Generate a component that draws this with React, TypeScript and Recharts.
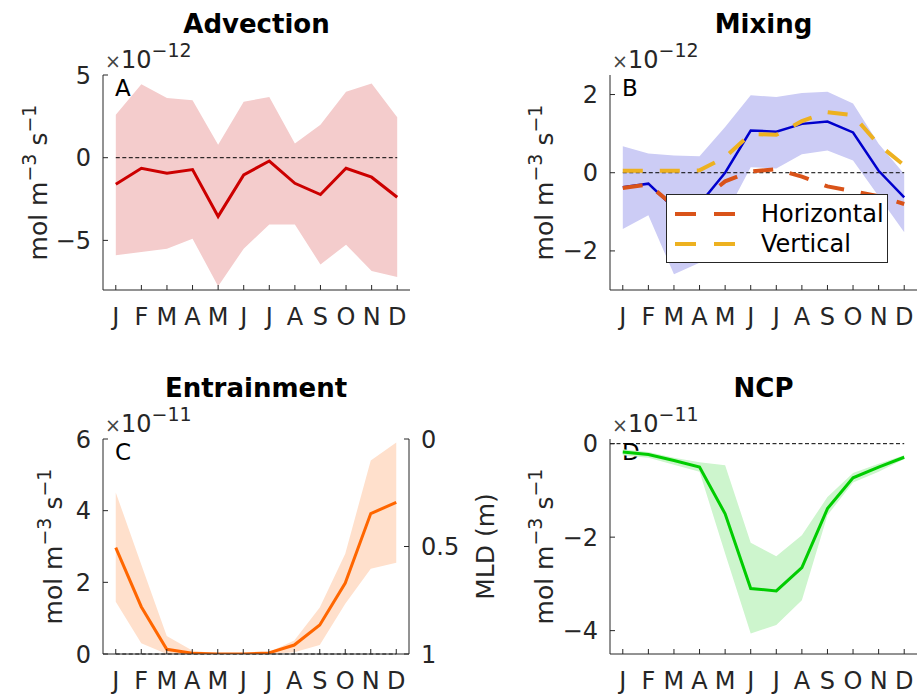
import React from 'react';
import { ComposedChart, Line, Area, XAxis, YAxis, ReferenceLine, Legend, Customized } from 'recharts';

// month axis
const months = ['J', 'F', 'M', 'A', 'M', 'J', 'J', 'A', 'S', 'O', 'N', 'D'];
const monthNums = [1, 2, 3, 4, 5, 6, 7, 8, 9, 10, 11, 12];

// advection (x1e-12)
const advMean = [-1.6, -0.64, -0.94, -0.72, -3.55, -1.04, -0.2, -1.55, -2.23, -0.64, -1.18, -2.39];
const advHi = [2.59, 4.44, 3.61, 3.47, 0.78, 3.39, 3.67, 0.86, 1.99, 3.99, 4.48, 2.45];
const advLo = [-5.9, -5.7, -5.5, -4.9, -7.77, -5.5, -4.04, -4.04, -6.46, -5.26, -6.85, -7.21];

// mixing (x1e-12)
const mixTotal = [-0.37, -0.28, -0.9, -0.8, 0.0, 1.08, 1.05, 1.25, 1.31, 1.03, 0.05, -0.63];
const mixHi = [0.68, 0.49, 0.44, 0.42, 1.17, 1.98, 1.94, 2.04, 2.07, 1.77, 0.74, -0.03];
const mixLo = [-1.44, -1.09, -2.6, -2.3, -1.1, 0.14, 0.11, 0.47, 0.57, 0.31, -0.6, -1.52];
const mixHoriz = [-0.39, -0.3, -0.85, -0.75, -0.22, 0.03, 0.09, -0.1, -0.35, -0.47, -0.6, -0.8];
const mixVert = [0.05, 0.05, 0.05, 0.06, 0.4, 0.99, 0.97, 1.32, 1.55, 1.47, 0.72, 0.19];

// entrainment (x1e-11)
const entMean = [2.97, 1.32, 0.13, 0.02, 0, 0, 0.03, 0.25, 0.81, 1.98, 3.92, 4.23];
const entHi = [4.51, 2.5, 0.5, 0.1, 0.01, 0.01, 0.05, 0.38, 1.3, 2.8, 5.4, 5.9];
const entLo = [1.46, 0.3, 0, 0, 0, 0, 0, 0.05, 0.25, 1.4, 2.38, 2.55];
const mldTicks = [0, 0.5, 1];

// NCP (x1e-11)
const ncpMean = [-0.18, -0.23, -0.36, -0.5, -1.5, -3.1, -3.15, -2.65, -1.39, -0.73, -0.5, -0.29];
const ncpHi = [-0.12, -0.18, -0.3, -0.4, -0.46, -2.12, -2.41, -1.96, -1.14, -0.63, -0.43, -0.25];
const ncpLo = [-0.25, -0.3, -0.45, -0.6, -2.35, -4.06, -3.88, -3.35, -1.53, -0.83, -0.6, -0.33];

const FONT = "'DejaVu Sans', sans-serif";
const INK = '#262626';
const TICK_FS = 24;

const rows = (mean: number[], lo: number[], hi: number[]) =>
  monthNums.map((m, i) => ({ m, mean: mean[i], band: [lo[i], hi[i]] }));

const advData = rows(advMean, advLo, advHi);
const mixData = monthNums.map((m, i) => ({
  m,
  mean: mixTotal[i],
  band: [mixLo[i], mixHi[i]],
  horiz: mixHoriz[i],
  vert: mixVert[i],
}));
const entData = rows(entMean, entLo, entHi);
const ncpData = rows(ncpMean, ncpLo, ncpHi);

const fmt = (v: number) => (v < 0 ? '\u2212' + Math.abs(v) : String(v));

const tickStyle = { fill: INK, fontSize: TICK_FS, fontFamily: FONT };

// axes are 1px thick boxes; margins are reduced by 1 to keep the plot box in place
function axes(yDomain: number[], yTicks: number[]) {
  return [
    <XAxis
      key="x"
      type="number"
      dataKey="m"
      domain={[0.5, 12.5]}
      ticks={monthNums}
      interval={0}
      tickFormatter={(v: number) => months[v - 1]}
      height={1}
      tickSize={-5}
      tickMargin={23}
      tick={tickStyle}
      axisLine={{ stroke: INK }}
      tickLine={{ stroke: INK }}
    />,
    <YAxis
      key="y"
      type="number"
      domain={yDomain}
      ticks={yTicks}
      interval={0}
      allowDataOverflow
      tickFormatter={fmt}
      width={1}
      tickSize={-5}
      tickMargin={17}
      tick={tickStyle}
      axisLine={{ stroke: INK }}
      tickLine={{ stroke: INK }}
    />,
  ];
}

type Box = { left: number; top: number; w: number; h: number };

// title, exponent, panel letter and y label drawn around the plot box
function decorations(box: Box, title: string, letter: string, exp: string, labelGap: number) {
  const cx = box.left + box.w / 2;
  const cy = box.top + box.h / 2;
  return (
    <Customized
      key="deco"
      component={() => (
        <g fontFamily={FONT} fill={INK}>
          <text x={cx} y={box.top - 42} textAnchor="middle" fontSize={26} fontWeight="bold" fill="#000">
            {title}
          </text>
          <text x={box.left + 2} y={box.top - 7} fontSize={TICK_FS}>
            <tspan fontSize={19} fill="#444">×</tspan>
            <tspan>10</tspan>
            <tspan dy={-11} fontSize={19}>{exp}</tspan>
          </text>
          <text x={box.left + 12} y={box.top + 21} fontSize={23} fill="#000">
            {letter}
          </text>
          <text
            transform={`translate(${box.left - labelGap},${cy}) rotate(-90)`}
            textAnchor="middle"
            fontSize={25}
          >
            mol m<tspan dy={-11} fontSize={19}>{'\u22123'}</tspan>
            <tspan dy={11}> s</tspan>
            <tspan dy={-11} fontSize={19}>{'\u22121'}</tspan>
          </text>
        </g>
      )}
    />
  );
}

function zeroLine(from: number) {
  return (
    <ReferenceLine
      key="zero"
      segment={[{ x: from, y: 0 }, { x: 12, y: 0 }]}
      stroke="#000"
      strokeWidth={1}
      strokeDasharray="4 2.5"
      ifOverflow="visible"
    />
  );
}

function MixLegend() {
  const rowsL = [
    { name: 'Horizontal', color: '#d95319' },
    { name: 'Vertical', color: '#edb120' },
  ];
  return (
    <div
      style={{
        width: 222,
        height: 69,
        border: `1px solid ${INK}`,
        background: '#fff',
        boxSizing: 'border-box',
        position: 'relative',
        fontFamily: FONT,
        fontSize: 24,
        color: '#000',
      }}
    >
      {rowsL.map((r, i) => (
        <div key={r.name} style={{ position: 'absolute', left: 0, top: 4 + i * 30, height: 30, display: 'flex', alignItems: 'center' }}>
          <svg width={90} height={30}>
            <line x1={8} x2={68} y1={15} y2={15} stroke={r.color} strokeWidth={4} strokeDasharray="21 18" />
          </svg>
          <span style={{ marginLeft: 4, lineHeight: '30px' }}>{r.name}</span>
        </div>
      ))}
    </div>
  );
}

function Advection() {
  const margin = { top: 75, left: 102, right: 48, bottom: 49 };
  const w = 458;
  const h = 340;
  const box = { left: 103, top: 75, w: 307, h: 215 };
  return (
    <ComposedChart width={w} height={h} data={advData} margin={margin}>
      {axes([-8, 5], [-5, 0, 5])}
      <Area dataKey="band" type="linear" stroke="none" fill="#f4cccc" fillOpacity={1} isAnimationActive={false} activeDot={false} />
      {zeroLine(1)}
      <Line dataKey="mean" type="linear" stroke="#cc0000" strokeWidth={3} dot={false} isAnimationActive={false} />
      {decorations(box, 'Advection', 'A', '\u221212', 56)}
    </ComposedChart>
  );
}

function Mixing() {
  const margin = { top: 75, left: 151, right: 0, bottom: 49 };
  const w = 459;
  const h = 340;
  const box = { left: 152, top: 75, w: 307, h: 215 };
  return (
    <ComposedChart width={w} height={h} data={mixData} margin={margin}>
      {axes([-3, 2.5], [-2, 0, 2])}
      <Area dataKey="band" type="linear" stroke="none" fill="#ccccf5" fillOpacity={1} isAnimationActive={false} activeDot={false} legendType="none" />
      {zeroLine(1)}
      <Line dataKey="mean" type="linear" stroke="#0000cc" strokeWidth={2.5} dot={false} isAnimationActive={false} legendType="none" />
      <Line dataKey="horiz" name="Horizontal" type="linear" stroke="#d95319" strokeWidth={4} strokeDasharray="20 17" dot={false} isAnimationActive={false} />
      <Line dataKey="vert" name="Vertical" type="linear" stroke="#edb120" strokeWidth={4} strokeDasharray="20 17" dot={false} isAnimationActive={false} />
      <Legend
        layout="vertical"
        verticalAlign="middle"
        align="center"
        content={() => <MixLegend />}
        wrapperStyle={{ position: 'absolute', left: 208, top: 194, width: 222, height: 69 }}
      />
      {decorations(box, 'Mixing', 'B', '\u221212', 57)}
    </ComposedChart>
  );
}

function Entrainment() {
  const margin = { top: 99, left: 102, right: 100, bottom: 43 };
  const w = 510;
  const h = 358;
  const box = { left: 103, top: 99, w: 306, h: 215 };
  return (
    <ComposedChart width={w} height={h} data={entData} margin={margin}>
      {axes([0, 6], [0, 2, 4, 6])}
      <YAxis
        yAxisId="mld"
        orientation="right"
        type="number"
        domain={[0, 1]}
        allowDataOverflow
        reversed
        ticks={mldTicks}
        interval={0}
        width={1}
        tickSize={-5}
        tickMargin={17}
        tick={tickStyle}
        axisLine={{ stroke: INK }}
        tickLine={{ stroke: INK }}
        label={{
          value: 'MLD (m)',
          content: () => (
            <text
              transform={`translate(${box.left + box.w + 85},${box.top + box.h / 2}) rotate(-90)`}
              textAnchor="middle"
              fontSize={25}
              fontFamily={FONT}
              fill={INK}
            >
              MLD (m)
            </text>
          ),
        }}
      />
      <Area dataKey="band" type="linear" stroke="none" fill="#ffe0cc" fillOpacity={1} isAnimationActive={false} activeDot={false} />
      {zeroLine(1)}
      <Line dataKey="mean" type="linear" stroke="#ff6600" strokeWidth={3} dot={false} isAnimationActive={false} />
      {decorations(box, 'Entrainment', 'C', '\u221211', 41)}
    </ComposedChart>
  );
}

function NCP() {
  const margin = { top: 99, left: 151, right: 0, bottom: 43 };
  const w = 459;
  const h = 358;
  const box = { left: 152, top: 99, w: 307, h: 215 };
  return (
    <ComposedChart width={w} height={h} data={ncpData} margin={margin}>
      {axes([-4.5, 0.1], [-4, -2, 0])}
      <Area dataKey="band" type="linear" stroke="none" fill="#cdf5cd" fillOpacity={1} isAnimationActive={false} activeDot={false} />
      {zeroLine(0.5)}
      <Line dataKey="mean" type="linear" stroke="#00cc00" strokeWidth={3} dot={false} isAnimationActive={false} />
      {decorations(box, 'NCP', 'D', '\u221211', 57)}
    </ComposedChart>
  );
}

export default function App() {
  return (
    <div style={{ position: 'absolute', left: 0, top: 0, width: 917, height: 698, background: '#fff', overflow: 'hidden' }}>
      <div style={{ position: 'absolute', left: 0, top: 0 }}>
        <Advection />
      </div>
      <div style={{ position: 'absolute', left: 458, top: 0 }}>
        <Mixing />
      </div>
      <div style={{ position: 'absolute', left: 0, top: 340 }}>
        <Entrainment />
      </div>
      <div style={{ position: 'absolute', left: 458, top: 340 }}>
        <NCP />
      </div>
    </div>
  );
}
